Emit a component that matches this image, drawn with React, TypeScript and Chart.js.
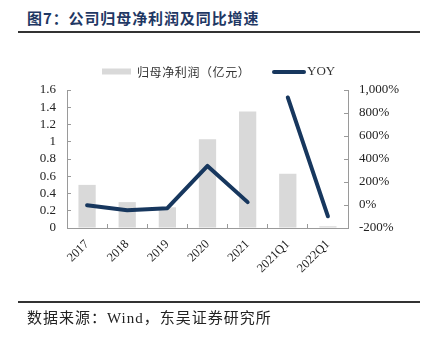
import React, { useEffect, useRef } from "react";
import { Chart, registerables } from "chart.js";

Chart.register(...registerables);

const titleText = "图7：公司归母净利润及同比增速";
const sourceText = "数据来源：Wind，东吴证券研究所";
const categories = ["2017", "2018", "2019", "2020", "2021", "2021Q1", "2022Q1"];
const barLabel = "归母净利润（亿元）";
const lineLabel = "YOY";
const profit = [0.5, 0.3, 0.24, 1.03, 1.35, 0.63, 0.02];
const yoy = [-3, -45, -28, 340, 25, 935, -98];
const BAR_COLOR = "#D9D9D9";
const LINE_COLOR = "#17375E";
const AXIS_COLOR = "#9a9a9a";
const TEXT_COLOR = "#222";

const legendPlugin = {
  id: "customLegend",
  afterDraw(chart: any) {
    const ctx = chart.ctx;
    const ds = chart.data.datasets;
    ctx.save();
    // bar item
    ctx.fillStyle = BAR_COLOR;
    ctx.fillRect(102, 68.5, 29, 6);
    ctx.fillStyle = "#333";
    ctx.font = '12px "Noto Sans CJK SC"';
    ctx.textBaseline = "middle";
    ctx.textAlign = "left";
    try {
      (ctx as any).letterSpacing = "0.6px";
    } catch (e) {}
    ctx.fillText(ds[0].label, 137, 72);
    try {
      (ctx as any).letterSpacing = "0px";
    } catch (e) {}
    // line item
    ctx.strokeStyle = LINE_COLOR;
    ctx.lineWidth = 4;
    ctx.lineCap = "round";
    ctx.beginPath();
    ctx.moveTo(274, 72);
    ctx.lineTo(304, 72);
    ctx.stroke();
    ctx.font = '13px "Liberation Serif"';
    ctx.fillText(ds[1].label, 307, 72);
    ctx.restore();
  },
};

export default function App() {
  const ref = useRef<HTMLCanvasElement>(null);

  useEffect(() => {
    if (!ref.current) return;
    const tickFont = { family: '"Liberation Serif", serif', size: 13 };
    const chart = new Chart(ref.current, {
      type: "bar",
      data: {
        labels: categories,
        datasets: [
          {
            type: "bar",
            label: barLabel,
            data: profit,
            backgroundColor: BAR_COLOR,
            yAxisID: "y",
            barPercentage: 0.43,
            categoryPercentage: 1,
            order: 2,
          } as any,
          {
            type: "line",
            label: lineLabel,
            data: yoy,
            borderColor: LINE_COLOR,
            backgroundColor: LINE_COLOR,
            borderWidth: 4,
            borderCapStyle: "round",
            borderJoinStyle: "round",
            pointRadius: 0,
            pointHoverRadius: 0,
            tension: 0,
            yAxisID: "y2",
            order: 1,
            segment: {
              borderColor: (c: any) => (c.p0DataIndex === 4 ? "rgba(0,0,0,0)" : LINE_COLOR),
            },
          } as any,
        ],
      },
      options: {
        responsive: false,
        animation: false,
        layout: { padding: { top: 90, left: 0, right: 0, bottom: 0 } },
        plugins: {
          legend: { display: false },
          tooltip: { enabled: false },
          title: { display: false },
        },
        scales: {
          x: {
            offset: true,
            border: { color: AXIS_COLOR, width: 1 },
            grid: { drawOnChartArea: false, tickLength: -4, color: AXIS_COLOR, offset: true },
            ticks: {
              font: { family: '"Liberation Serif", serif', size: 12.5 },
              color: TEXT_COLOR,
              minRotation: 45,
              maxRotation: 45,
              autoSkip: false,
              padding: 13,
            },
            afterFit: (s: any) => {
              s.height = 112;
            },
          },
          y: {
            position: "left",
            min: 0,
            max: 1.6,
            border: { color: AXIS_COLOR, width: 1 },
            grid: { drawOnChartArea: false, tickLength: -4, color: AXIS_COLOR },
            ticks: {
              stepSize: 0.2,
              autoSkip: false,
              font: tickFont,
              color: TEXT_COLOR,
              padding: 15,
              callback: (v: any) => String(Math.round(Number(v) * 10) / 10),
            },
            afterFit: (s: any) => {
              s.width = 67;
            },
          },
          y2: {
            position: "right",
            min: -200,
            max: 1000,
            border: { color: AXIS_COLOR, width: 1 },
            grid: { drawOnChartArea: false, tickLength: -4, color: AXIS_COLOR },
            ticks: {
              stepSize: 200,
              autoSkip: false,
              font: tickFont,
              color: TEXT_COLOR,
              padding: 15,
              callback: (v: any) => Number(v).toLocaleString("en-US") + "%",
            },
            afterFit: (s: any) => {
              s.width = 77;
            },
          },
        },
      } as any,
      plugins: [legendPlugin],
    });
    return () => chart.destroy();
  }, []);

  return (
    <div
      style={{
        position: "fixed",
        left: 0,
        top: 0,
        width: 425,
        height: 340,
        background: "#fff",
        overflow: "hidden",
      }}
    >
      <div
        style={{
          position: "absolute",
          left: 27,
          top: 7,
          fontFamily: '"Noto Sans CJK SC", sans-serif',
          fontWeight: 700,
          fontSize: 15,
          letterSpacing: "0.9px",
          lineHeight: "22px",
          color: "#1F3864",
          whiteSpace: "nowrap",
        }}
      >
        {titleText}
      </div>
      <div
        style={{
          position: "absolute",
          left: 18,
          top: 31,
          width: 402,
          height: 2,
          background: "#333",
        }}
      />
      <canvas
        ref={ref}
        width={425}
        height={340}
        style={{ position: "absolute", left: 0, top: 0, width: 425, height: 340 }}
      />
      <div
        style={{
          position: "absolute",
          left: 18,
          top: 301,
          width: 402,
          height: 2,
          background: "#333",
        }}
      />
      <div
        style={{
          position: "absolute",
          left: 27,
          top: 308,
          fontFamily: '"Liberation Serif", "Noto Sans CJK SC", serif',
          fontSize: 15,
          letterSpacing: "1px",
          lineHeight: "20px",
          color: "#222",
          whiteSpace: "nowrap",
        }}
      >
        {sourceText}
      </div>
    </div>
  );
}
